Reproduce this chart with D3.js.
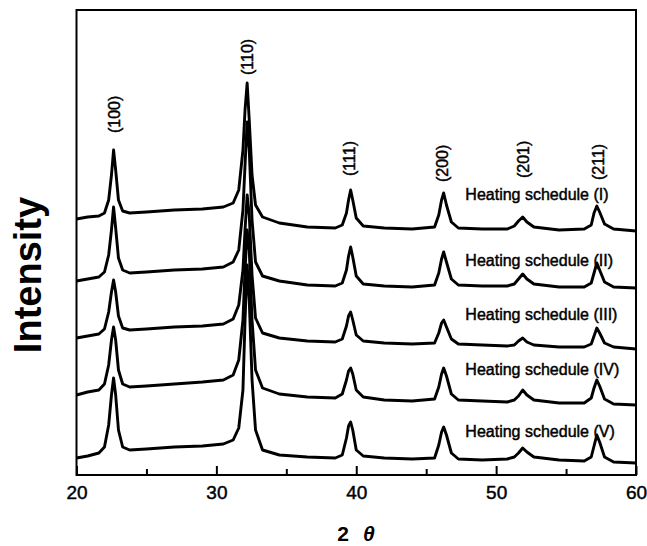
<!DOCTYPE html>
<html lang="en">
  <head>
    <meta charset="utf-8" />
    <title>XRD patterns</title>
    <script type="text/javascript" src="https://d3js.org/d3.v7.min.js"></script>
    <style>
      body { margin: 0; background: #fff; }
      text { font-family: "Liberation Sans", Arial, sans-serif; fill: #000; }
      .inked { stroke: #000; stroke-width: 0.45px; }
    </style>
  </head>
  <body>
    <div id="chart"></div>

    <script type="text/javascript">
      /********************************
       * data
       ********************************/

      // shared 2-theta sampling (degrees)
      const twoTheta = [
        20.0, 20.8, 21.6, 22.0, 22.3, 22.5, 22.65, 22.8, 23.0, 23.3, 23.8, 25.0,
        27.0, 29.0, 30.5, 31.2, 31.6, 31.9, 32.05, 32.2, 32.35, 32.55, 32.8,
        33.3, 34.5, 36.5, 38.5, 39.0, 39.3, 39.45, 39.6, 39.75, 40.0, 40.5,
        42.0, 44.0, 45.6, 45.9, 46.1, 46.25, 46.45, 46.8, 47.3, 49.0, 50.8,
        51.3, 51.6, 51.9, 52.2, 52.7, 54.5, 56.3, 56.8, 57.0, 57.2, 57.4,
        57.75, 58.4, 60.0,
      ];

      // stacked intensities (a.u., offsets included)
      const scheduleI = [
        256, 258, 259, 262, 275, 300, 325, 305, 275, 264, 262, 263, 265, 266,
        268, 272, 285, 325, 365, 392, 355, 300, 270, 258, 252, 248, 247, 250,
        262, 275, 285, 275, 257, 249, 247, 246, 248, 260, 275, 282, 270, 253,
        247, 246, 246, 249, 254, 258, 253, 248, 245, 246, 250, 262, 269, 263,
        251, 246, 244,
      ];
      const scheduleII = [
        194, 196, 198, 203, 220, 245, 268, 247, 217, 205, 202, 203, 205, 206,
        208, 213, 225, 265, 310, 353, 325, 255, 213, 199, 194, 190, 189, 192,
        205, 219, 228, 218, 199, 191, 189, 188, 190, 202, 216, 223, 213, 196,
        190, 189, 189, 191, 196, 201, 196, 191, 188, 188, 192, 202, 212, 205,
        193, 188, 187,
      ];
      const scheduleIII = [
        137, 139, 141, 146, 163, 183, 195, 183, 159, 147, 145, 146, 148, 149,
        151, 156, 170, 205, 245, 280, 260, 200, 157, 142, 137, 134, 133, 136,
        149, 159, 163, 155, 140, 134, 132, 131, 132, 142, 152, 155, 148, 136,
        131, 130, 129, 130, 134, 137, 133, 130, 128, 128, 131, 139, 147, 142,
        132, 128, 126,
      ];
      const scheduleIV = [
        80, 83, 85, 91, 110, 135, 148, 135, 105, 91, 88, 89, 91, 93, 95, 100,
        115, 155, 205, 245, 225, 155, 105, 87, 81, 78, 77, 81, 95, 104, 107,
        101, 85, 78, 75, 74, 76, 88, 101, 107, 99, 81, 75, 74, 73, 75, 79, 85,
        80, 75, 72, 72, 77, 87, 95, 89, 76, 71, 70,
      ];
      const scheduleV = [
        17, 19, 22, 28, 50, 80, 97, 80, 45, 28, 25, 26, 28, 29, 31, 35, 47, 85,
        155, 210, 175, 95, 45, 25, 20, 18, 17, 20, 37, 49, 53, 45, 25, 19, 17,
        16, 17, 30, 43, 48, 40, 22, 16, 15, 16, 18, 22, 27, 23, 18, 15, 14, 18,
        29, 40, 33, 18, 13, 12,
      ];

      const seriesNames = [
        "Heating schedule (I)",
        "Heating schedule (II)",
        "Heating schedule (III)",
        "Heating schedule (IV)",
        "Heating schedule (V)",
      ];
      const seriesValues = [scheduleI, scheduleII, scheduleIII, scheduleIV, scheduleV];
      // label baseline level for each series (a.u.)
      const seriesLabelLevel = [275, 209, 155, 100, 38];

      // reflections: hkl, 2-theta, label start level (a.u.)
      const peakLabels = ["(100)", "(110)", "(111)", "(200)", "(201)", "(211)"];
      const peakPositions = [22.75, 32.2, 39.55, 46.2, 51.95, 57.3];
      const peakLabelLevel = [342, 400, 299, 293, 297, 295];

      const xTicks = [20, 30, 40, 50, 60];
      const xMinorTicks = [25, 35, 45, 55];

      /***************************
       * svg + scales
       **************************/

      const width = 647;
      const height = 546;
      const margin = { top: 10, right: 11, bottom: 71, left: 76.5 };
      const innerW = width - margin.left - margin.right;
      const innerH = height - margin.top - margin.bottom;

      const svg = d3
        .select("#chart")
        .append("svg")
        .attr("width", width)
        .attr("height", height);

      const g = svg
        .append("g")
        .attr("transform", `translate(${margin.left},${margin.top})`);

      const x = d3.scaleLinear().domain([20, 60]).range([0, innerW]);
      const y = d3.scaleLinear().domain([0, 465]).range([innerH, 0]);

      /***************************
       * traces
       **************************/

      const line = d3
        .line()
        .x((d, i) => x(twoTheta[i]))
        .y((d) => y(d));

      g.selectAll("path.trace")
        .data(seriesValues)
        .enter()
        .append("path")
        .attr("class", "trace")
        .attr("d", line)
        .attr("fill", "none")
        .attr("stroke", "#000")
        .attr("stroke-width", 2.9)
        .attr("stroke-linejoin", "round");

      // series labels
      g.selectAll("text.series")
        .data(seriesNames)
        .enter()
        .append("text")
        .attr("class", "series inked")
        .attr("x", x(47.8))
        .attr("y", (d, i) => y(seriesLabelLevel[i]))
        .style("font-size", "16px")
        .text((d) => d);

      // peak labels (rotated)
      g.selectAll("text.hkl")
        .data(peakLabels)
        .enter()
        .append("text")
        .attr("class", "hkl inked")
        .attr(
          "transform",
          (d, i) => `translate(${x(peakPositions[i]) + 5.5},${y(peakLabelLevel[i])}) rotate(-90)`
        )
        .style("font-size", "16px")
        .text((d) => d);

      /***************************
       * axes + frame
       **************************/

      const xAxis = g
        .append("g")
        .attr("transform", `translate(0,${innerH})`)
        .call(
          d3
            .axisBottom(x)
            .tickValues(xTicks)
            .tickSizeInner(-9)
            .tickSizeOuter(0)
            .tickPadding(11)
        );
      xAxis.select(".domain").remove();
      xAxis.selectAll("line").attr("stroke", "#000").attr("stroke-width", 2);
      xAxis
        .selectAll("text")
        .attr("class", "inked")
        .style("font-size", "19px")
        .style("font-family", '"Liberation Sans", Arial, sans-serif');

      g.append("g")
        .attr("transform", `translate(0,${innerH})`)
        .call(d3.axisBottom(x).tickValues(xMinorTicks).tickSizeInner(-6).tickSizeOuter(0).tickFormat(""))
        .call((s) => s.select(".domain").remove())
        .selectAll("line")
        .attr("stroke", "#000")
        .attr("stroke-width", 2);

      g.append("rect")
        .attr("x", 0)
        .attr("y", 0)
        .attr("width", innerW)
        .attr("height", innerH)
        .attr("fill", "none")
        .attr("stroke", "#000")
        .attr("stroke-width", 2);

      // axis titles
      svg
        .append("text")
        .attr("transform", "translate(41,275) rotate(-90)")
        .attr("text-anchor", "middle")
        .style("font-size", "38px")
        .style("font-weight", "bold")
        .text("Intensity");

      const xTitle = svg
        .append("text")
        .attr("x", 356)
        .attr("y", 541)
        .attr("text-anchor", "middle")
        .style("font-size", "21px")
        .style("font-weight", "bold");
      xTitle.append("tspan").text("2");
      xTitle
        .append("tspan")
        .attr("dx", 14)
        .style("font-style", "italic")
        .text("θ");
    </script>
  </body>
</html>
